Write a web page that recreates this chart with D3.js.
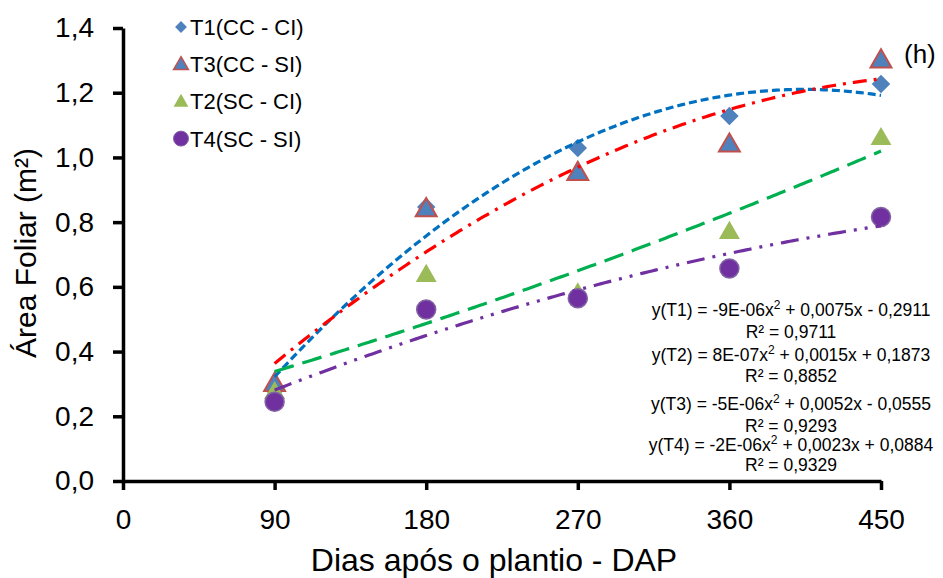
<!DOCTYPE html>
<html>
<head>
<meta charset="UTF-8">
<title>Área Foliar</title>
<script src="https://cdn.jsdelivr.net/npm/d3@7"></script>
<style>
* { margin: 0; padding: 0; }
body { background: #fff; }
svg { display: block; font-family: "Liberation Sans", Arial, sans-serif; }
</style>
</head>
<body>
<svg id="chart" width="943" height="578"></svg>
<script>
// dados
const dias = [90, 180, 270, 360, 450];
const t1 = [0.28, 0.847, 1.029, 1.128, 1.227];
const t3 = [0.30, 0.84, 0.952, 1.04, 1.30];
const t2 = [0.275, 0.637, 0.58, 0.77, 1.06];
const t4 = [0.245, 0.53, 0.565, 0.657, 0.816];
const xTicks = [0, 90, 180, 270, 360, 450];
const yTicks = [0, 0.2, 0.4, 0.6, 0.8, 1.0, 1.2, 1.4];
const legendNames = ["T1(CC - CI)", "T3(CC - SI)", "T2(SC - CI)", "T4(SC - SI)"];
const eqLines = [
  ["y(T1) = -9E-06x", "2", " + 0,0075x - 0,2911"],
  ["R² = 0,9711"],
  ["y(T2) = 8E-07x", "2", " + 0,0015x + 0,1873"],
  ["R² = 0,8852"],
  ["y(T3) = -5E-06x", "2", " + 0,0052x - 0,0555"],
  ["R² = 0,9293"],
  ["y(T4) = -2E-06x", "2", " + 0,0023x + 0,0884"],
  ["R² = 0,9329"]
];

const series = [
  { name: legendNames[0], values: t1, shape: "diamond", fill: "#4F81BD", stroke: "none", line: "#0070C0", dash: "8,4" },
  { name: legendNames[1], values: t3, shape: "triangle", fill: "#4F81BD", stroke: "#C0504D", line: "#FF0000", dash: "14,7,3,7" },
  { name: legendNames[2], values: t2, shape: "triangle", fill: "#9BBB59", stroke: "none", line: "#00B050", dash: "20,9" },
  { name: legendNames[3], values: t4, shape: "circle", fill: "#7030A0", stroke: "#8064A2", line: "#7030A0", dash: "18,8,3,8,3,8" }
];

const svg = d3.select("#chart");
const x = d3.scaleLinear().domain([0, 450]).range([123, 881]);
const y = d3.scaleLinear().domain([0, 1.4]).range([481, 28]);
const fmt = d => d3.format(".1f")(d).replace(".", ",");

// regressão polinomial de 2º grau (como a linha de tendência)
function quadFit(xs, ys) {
  let s = [0, 0, 0, 0, 0], t = [0, 0, 0];
  xs.forEach((xv, i) => {
    for (let k = 0; k < 5; k++) s[k] += Math.pow(xv, k);
    for (let k = 0; k < 3; k++) t[k] += Math.pow(xv, k) * ys[i];
  });
  const m = [[s[0], s[1], s[2], t[0]], [s[1], s[2], s[3], t[1]], [s[2], s[3], s[4], t[2]]];
  for (let i = 0; i < 3; i++) {
    for (let j = i + 1; j < 3; j++) {
      const f = m[j][i] / m[i][i];
      for (let k = i; k < 4; k++) m[j][k] -= f * m[i][k];
    }
  }
  const c = [0, 0, 0];
  for (let i = 2; i >= 0; i--) {
    let v = m[i][3];
    for (let k = i + 1; k < 3; k++) v -= m[i][k] * c[k];
    c[i] = v / m[i][i];
  }
  return xv => c[0] + c[1] * xv + c[2] * xv * xv;
}

// eixos
const yAxis = svg.append("g")
  .attr("transform", `translate(${x(0)},0)`)
  .call(d3.axisLeft(y).tickValues(yTicks).tickFormat(fmt).tickSize(10).tickPadding(19).tickSizeOuter(0));
const xAxis = svg.append("g")
  .attr("transform", `translate(0,${y(0)})`)
  .call(d3.axisBottom(x).tickValues(xTicks).tickSize(9).tickPadding(19).tickSizeOuter(0));
[yAxis, xAxis].forEach(a => {
  a.select(".domain").attr("stroke", "#000").attr("stroke-width", 3.5);
  a.selectAll(".tick line").attr("stroke", "#000").attr("stroke-width", 3.5);
  a.selectAll(".tick text").attr("fill", "#000").style("font-size", "28px").style("font-family", "'Liberation Sans', Arial, sans-serif");
});

// marcadores
function drawMarker(g, s, cx, cy) {
  if (s.shape === "diamond") {
    g.append("path").attr("d", d3.symbol(d3.symbolSquare, 170)())
      .attr("transform", `translate(${cx},${cy}) rotate(45)`)
      .attr("fill", s.fill);
  } else if (s.shape === "triangle") {
    g.append("path").attr("d", d3.symbol(d3.symbolTriangle, 190)())
      .attr("transform", `translate(${cx},${cy + 1})`)
      .attr("fill", s.fill).attr("stroke", s.stroke).attr("stroke-width", s.stroke === "none" ? 0 : 2);
  } else {
    g.append("circle").attr("cx", cx).attr("cy", cy).attr("r", 9.5)
      .attr("fill", s.fill).attr("stroke", s.stroke).attr("stroke-width", 1.5);
  }
}

const pts = svg.append("g");
series.forEach(s => {
  dias.forEach((d, i) => drawMarker(pts, s, x(d), y(s.values[i])));
});

// linhas de tendência
const lines = svg.append("g");
const line = d3.line().x(d => x(d[0])).y(d => y(d[1]));
series.forEach(s => {
  const f = quadFit(dias, s.values);
  const samples = d3.range(90, 450.1, 2).map(d => [d, f(d)]);
  lines.append("path").attr("d", line(samples))
    .attr("fill", "none").attr("stroke", s.line).attr("stroke-width", 3.2)
    .attr("stroke-dasharray", s.dash);
});

// legenda
const leg = svg.append("g");
series.forEach((s, i) => {
  const ly = 27 + i * 37.2;
  const lg = leg.append("g");
  if (s.shape === "diamond") {
    lg.append("path").attr("d", d3.symbol(d3.symbolSquare, 70)())
      .attr("transform", `translate(181,${ly}) rotate(45)`).attr("fill", s.fill);
  } else if (s.shape === "triangle") {
    lg.append("path").attr("d", d3.symbol(d3.symbolTriangle, 95)())
      .attr("transform", `translate(181,${ly + 1})`)
      .attr("fill", s.fill).attr("stroke", s.stroke).attr("stroke-width", s.stroke === "none" ? 0 : 1.5);
  } else {
    lg.append("circle").attr("cx", 181).attr("cy", ly).attr("r", 7.5)
      .attr("fill", s.fill).attr("stroke", s.stroke).attr("stroke-width", 1);
  }
  lg.append("text").attr("x", 190).attr("y", ly + 8)
    .style("font-size", "22px").text(s.name);
});

// equações
const eqY = [310, 332, 355, 376, 404, 426, 445, 465];
eqLines.forEach((parts, i) => {
  const t = svg.append("text").attr("x", 791).attr("y", eqY[i] + 6)
    .attr("text-anchor", "middle").style("font-size", "17.5px");
  if (parts.length === 1) {
    t.text(parts[0]);
  } else {
    t.append("tspan").text(parts[0]);
    t.append("tspan").attr("dy", -7).style("font-size", "12px").text(parts[1]);
    t.append("tspan").attr("dy", 7).text(parts[2]);
  }
});

svg.append("text").attr("x", 904).attr("y", 63).style("font-size", "26px").text("(h)");

// títulos dos eixos
svg.append("text").attr("x", 494).attr("y", 571).attr("text-anchor", "middle")
  .style("font-size", "32px").text("Dias após o plantio - DAP");
svg.append("text").attr("transform", "translate(36,253) rotate(-90)").attr("text-anchor", "middle")
  .style("font-size", "30px").text("Área Foliar (m²)");
</script>
</body>
</html>
